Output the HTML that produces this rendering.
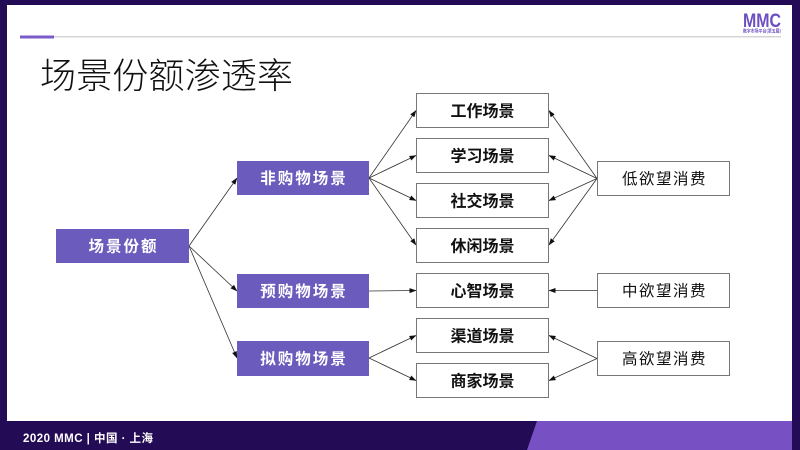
<!DOCTYPE html>
<html><head><meta charset="utf-8"><style>
html,body{margin:0;padding:0;width:800px;height:450px;overflow:hidden;background:#fff}
svg{display:block}
text{font-family:"Liberation Sans","Noto Sans CJK SC",sans-serif}
</style></head><body>
<svg width="800" height="450" viewBox="0 0 800 450" xmlns="http://www.w3.org/2000/svg">
<defs>
<marker id="ah" markerWidth="7" markerHeight="6" refX="6.5" refY="3" orient="auto" markerUnits="userSpaceOnUse">
<path d="M0,0.5 L7,3 L0,5.5 Z" fill="#111"/>
</marker>
</defs>
<!-- frame -->
<rect x="0" y="0" width="800" height="450" fill="#240b55"/>
<rect x="7" y="5" width="785" height="416" fill="#ffffff"/>
<polygon points="537,421 792,421 792,450 527,450" fill="#7751c4"/>
<!-- header line -->
<rect x="54" y="36" width="727" height="1.5" fill="#d4d4d4"/>
<rect x="20" y="35.5" width="34" height="3" fill="#7a5bc9"/>
<!-- logo -->
<text x="743" y="27" font-size="19.5" font-weight="bold" fill="#6c4fc0" textLength="38" lengthAdjust="spacingAndGlyphs" style="font-family:'Liberation Sans',sans-serif">MMC</text>
<text x="762" y="32.5" font-size="4.5" fill="#6c4fc0" text-anchor="middle" textLength="38" lengthAdjust="spacingAndGlyphs" style="font-family:'Noto Sans CJK SC',sans-serif;font-weight:bold">数字市场平台(第五届)</text>
<!-- title -->
<text x="40" y="88" font-size="35.5" fill="#111" style="font-family:'Noto Sans CJK SC',sans-serif;font-weight:300" textLength="253" lengthAdjust="spacingAndGlyphs">场景份额渗透率</text>
<!-- footer text -->
<text x="23" y="442" font-size="11.5" font-weight="bold" fill="#fff" textLength="130" lengthAdjust="spacing" style="font-family:'Liberation Sans','Noto Sans CJK SC',sans-serif">2020 MMC | 中国 · 上海</text>

<!-- connectors -->
<g stroke="#333" stroke-width="0.8" fill="none" marker-end="url(#ah)">
<line x1="189" y1="246" x2="237" y2="178"/>
<line x1="189" y1="246" x2="237" y2="291"/>
<line x1="189" y1="246" x2="237" y2="358"/>
<line x1="369" y1="178" x2="416" y2="110.5"/>
<line x1="369" y1="178" x2="416" y2="155.5"/>
<line x1="369" y1="178" x2="416" y2="200.5"/>
<line x1="369" y1="178" x2="416" y2="245"/>
<line x1="369" y1="291" x2="416" y2="290.5"/>
<line x1="369" y1="358" x2="416" y2="335.5"/>
<line x1="369" y1="358" x2="416" y2="380.5"/>
<line x1="597" y1="178.5" x2="549" y2="110.5"/>
<line x1="597" y1="178.5" x2="549" y2="155.5"/>
<line x1="597" y1="178.5" x2="549" y2="200.5"/>
<line x1="597" y1="178.5" x2="549" y2="245"/>
<line x1="597" y1="290.5" x2="549" y2="290.5"/>
<line x1="597" y1="358.5" x2="549" y2="335.5"/>
<line x1="597" y1="358.5" x2="549" y2="380.5"/>
</g>

<!-- purple boxes -->
<g fill="#6a5bbd">
<rect x="56" y="229" width="133" height="34"/>
<rect x="237" y="161" width="132" height="34"/>
<rect x="237" y="274" width="132" height="34"/>
<rect x="237" y="341" width="132" height="35"/>
</g>
<g fill="#fff" font-size="15.5" font-weight="bold" text-anchor="middle" style="letter-spacing:2px">
<text x="123.5" y="251.5">场景份额</text>
<text x="304" y="183.5">非购物场景</text>
<text x="304" y="296.5">预购物场景</text>
<text x="304" y="364">拟购物场景</text>
</g>

<!-- white scene boxes -->
<g fill="#fff" stroke="#777" stroke-width="1">
<rect x="416.5" y="93.5" width="132" height="34"/>
<rect x="416.5" y="138.5" width="132" height="34"/>
<rect x="416.5" y="183.5" width="132" height="34"/>
<rect x="416.5" y="228.5" width="132" height="34"/>
<rect x="416.5" y="273.5" width="132" height="34"/>
<rect x="416.5" y="318.5" width="132" height="34"/>
<rect x="416.5" y="363.5" width="132" height="34"/>
<rect x="597.5" y="161.5" width="132" height="34"/>
<rect x="597.5" y="273.5" width="132" height="34"/>
<rect x="597.5" y="341.5" width="132" height="34"/>
</g>
<g fill="#111" font-size="16" font-weight="bold" text-anchor="middle">
<text x="482.5" y="116.5">工作场景</text>
<text x="482.5" y="161.5">学习场景</text>
<text x="482.5" y="206.5">社交场景</text>
<text x="482.5" y="251.5">休闲场景</text>
<text x="482.5" y="296.5">心智场景</text>
<text x="482.5" y="341.5">渠道场景</text>
<text x="482.5" y="386.5">商家场景</text>
</g>
<g fill="#111" font-size="15.5" text-anchor="middle" style="letter-spacing:1.5px">
<text x="664.5" y="184">低欲望消费</text>
<text x="664.5" y="296">中欲望消费</text>
<text x="664.5" y="364">高欲望消费</text>
</g>
</svg>
</body></html>
